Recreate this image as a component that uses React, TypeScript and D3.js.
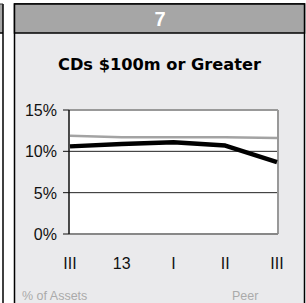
import React from "react";
import * as d3 from "d3";

const categories = ["III", "13", "I", "II", "III"];
const bankValues = [10.6, 10.9, 11.1, 10.7, 8.7];
const peerValues = [11.9, 11.7, 11.7, 11.7, 11.6];
const yTicks = [0, 5, 10, 15];
const title = "CDs $100m or Greater";
const panelNumber = "7";

export default function App() {
  const W = 306;
  const H = 303;
  const plot = { left: 69, right: 278, top: 110, bottom: 234 };
  const x = d3
    .scalePoint<number>()
    .domain(categories.map((_, i) => i))
    .range([70, 277]);
  const y = d3.scaleLinear().domain([0, 15]).range([plot.bottom, plot.top]);
  const line = d3
    .line<number>()
    .x((_, i) => x(i) as number)
    .y((d) => y(d));
  const font = "'Liberation Sans', Arial, sans-serif";

  return (
    <svg
      width={W}
      height={H}
      style={{ position: "absolute", left: 0, top: 0, display: "block" }}
      fontFamily={font}
    >
      <rect x={0} y={0} width={W} height={H} fill="#ffffff" />
      {/* left neighbouring panel fragment */}
      <rect x={-10} y={4} width={13} height={29} fill="#a6a6a6" />
      <line x1={3} y1={4} x2={3} y2={H} stroke="#000" strokeWidth={1.5} />
      <line x1={-10} y1={33} x2={3} y2={33} stroke="#000" strokeWidth={1.5} />
      <line x1={-10} y1={4} x2={3} y2={4} stroke="#333" strokeWidth={1} />

      {/* main panel */}
      <rect x={14.5} y={4} width={290} height={H + 10} fill="#eaeaec" stroke="#000" strokeWidth={1.5} />
      <rect x={14.5} y={4} width={290} height={29} fill="#a6a6a6" stroke="#000" strokeWidth={1.5} />
      <text x={160} y={26} textAnchor="middle" fill="#fff" fontSize={20} fontWeight="bold">
        {panelNumber}
      </text>
      <text
        x={159.5}
        y={69.5}
        textAnchor="middle"
        fill="#000"
        fontSize={16}
        fontWeight="bold"
        fontFamily="'DejaVu Sans', sans-serif"
        textLength={203}
        lengthAdjust="spacingAndGlyphs"
      >
        {title}
      </text>

      {/* plot area */}
      <rect x={plot.left} y={plot.top} width={plot.right - plot.left} height={plot.bottom - plot.top} fill="#fff" />
      {yTicks
        .filter((t) => t > 0 && t < 15)
        .map((t) => (
          <line key={t} x1={plot.left} x2={plot.right} y1={y(t)} y2={y(t)} stroke="#222" strokeWidth={1} />
        ))}
      <line x1={plot.left} x2={plot.right} y1={plot.top} y2={plot.top} stroke="#999" strokeWidth={2} />
      <line x1={plot.right} x2={plot.right} y1={plot.top} y2={plot.bottom} stroke="#999" strokeWidth={2} />
      <line x1={plot.left} x2={plot.right} y1={plot.bottom} y2={plot.bottom} stroke="#888" strokeWidth={2} />
      <line x1={plot.left} x2={plot.left} y1={plot.top} y2={plot.bottom} stroke="#111" strokeWidth={1.5} />
      {yTicks.map((t) => (
        <g key={t}>
          <line x1={63} x2={plot.left} y1={y(t)} y2={y(t)} stroke="#111" strokeWidth={1} />
          <text x={57} y={y(t) + 6} textAnchor="end" fontSize={16} fill="#111">
            {t}%
          </text>
        </g>
      ))}

      <path d={line(peerValues) || ""} fill="none" stroke="#a3a3a3" strokeWidth={2.5} />
      <path d={line(bankValues) || ""} fill="none" stroke="#000" strokeWidth={4.5} strokeLinejoin="round" />

      {categories.map((c, i) => (
        <text key={i} x={x(i) as number} y={268.5} textAnchor="middle" fontSize={16} fill="#111">
          {c}
        </text>
      ))}

      <text x={22} y={300} fontSize={12.5} fill="#aaa">
        % of Assets
      </text>
      <text x={232} y={300} fontSize={12.5} fill="#aaa">
        Peer
      </text>
    </svg>
  );
}
